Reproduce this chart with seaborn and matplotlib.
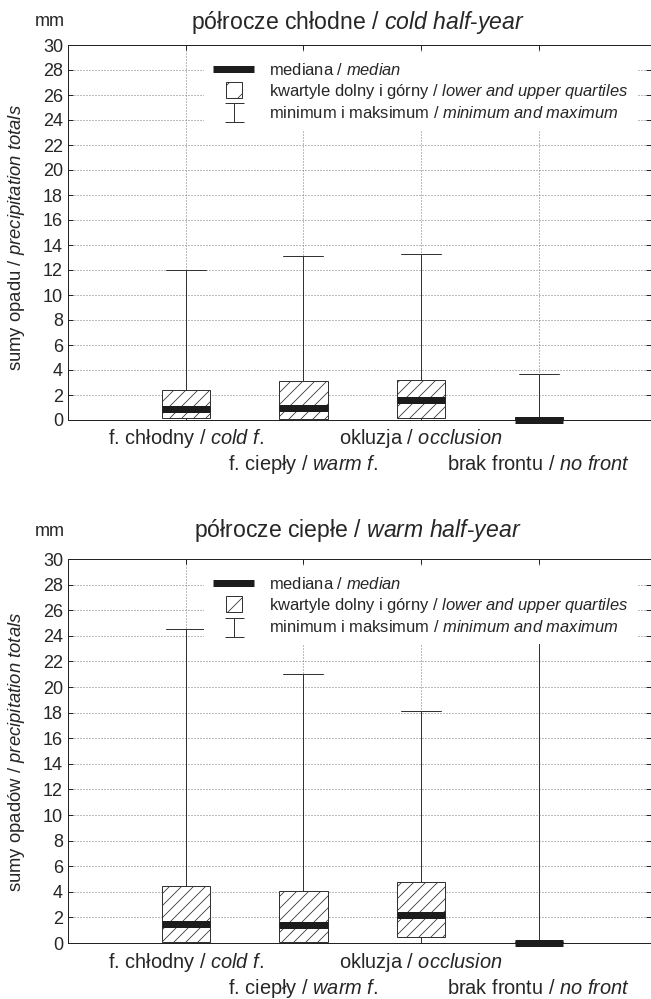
import numpy as np
import matplotlib.pyplot as plt
import matplotlib.patches as mpatches
from matplotlib.lines import Line2D
from matplotlib.path import Path
from matplotlib.legend_handler import HandlerPatch
import seaborn as sns

# kategorie frontów
categories = ["f. chłodny", "f. ciepły", "okluzja", "brak frontu"]
categories_en = ["cold f.", "warm f.", "occlusion", "no front"]

# półrocze chłodne
cold_min = [0.0, 0.0, 0.0, 0.0]
cold_q1 = [0.13, 0.10, 0.13, 0.0]
cold_med = [0.85, 1.0, 1.6, 0.0]
cold_q3 = [2.4, 3.1, 3.2, 0.27]
cold_max = [12.0, 13.1, 13.3, 3.7]

# półrocze ciepłe
warm_min = [0.0, 0.0, 0.0, 0.0]
warm_q1 = [0.05, 0.05, 0.5, 0.0]
warm_med = [1.5, 1.4, 2.2, 0.0]
warm_q3 = [4.45, 4.05, 4.8, 0.05]
warm_max = [24.5, 21.0, 18.1, 26.0]

yticks = list(range(0, 31, 2))

DARK = "#1c1c1c"
EDGE = "#333333"
GRID = "#7a7a7a"

sns.set_style("ticks")
plt.rcParams["font.family"] = ["Liberation Sans", "DejaVu Sans"]
plt.rcParams["mathtext.fontset"] = "custom"
plt.rcParams["mathtext.rm"] = "Liberation Sans"
plt.rcParams["mathtext.it"] = "Liberation Sans:italic"
plt.rcParams["mathtext.bf"] = "Liberation Sans:bold"
plt.rcParams["hatch.linewidth"] = 0.8


def square(legend, orig_handle, xdescent, ydescent, width, height, fontsize):
    s = 16
    return mpatches.Rectangle((-xdescent + width / 2 - s / 2, -ydescent + height / 2 - s / 2), s, s)


whisker_marker = Path(
    [(-0.5, 0.5), (0.5, 0.5), (0, 0.5), (0, -0.5), (-0.5, -0.5), (0.5, -0.5)],
    [Path.MOVETO, Path.LINETO, Path.MOVETO, Path.LINETO, Path.MOVETO, Path.LINETO],
)


def mixed(pl, en):
    return pl + r" / $\mathit{" + en.replace(" ", r"\ ") + "}$"


def draw_panel(ax, lo, q1, med, q3, hi):
    stats = [dict(med=m, q1=a, q3=b, whislo=l, whishi=h, fliers=[])
             for l, a, m, b, h in zip(lo, q1, med, q3, hi)]
    art = ax.bxp(stats, positions=[1, 2, 3, 4], widths=0.41, capwidths=0.34,
                 patch_artist=True, showfliers=False,
                 boxprops=dict(facecolor="white", edgecolor=EDGE, hatch="//", linewidth=1),
                 medianprops=dict(color=DARK, linewidth=7, solid_capstyle="butt"),
                 whiskerprops=dict(color=EDGE, linewidth=1),
                 capprops=dict(color=EDGE, linewidth=1))
    for m in art["medians"]:
        m.set_clip_on(False)
        m.set_zorder(4)

    ax.set_xlim(0, 583 / 117.7)
    ax.set_ylim(0, 30)
    ax.set_yticks(yticks)
    ax.set_xticks([1, 2, 3, 4], labels=[])
    # podpisy kategorii w dwóch rzędach
    for i, (pl, en) in enumerate(zip(categories, categories_en)):
        ax.annotate(mixed(pl, en), xy=(i + 1, 0), xycoords=("data", "axes fraction"),
                    xytext=(0, -19 if i % 2 == 0 else -45), textcoords="offset points",
                    ha="center", va="center", fontsize=20, annotation_clip=False)
    ax.set_axisbelow(True)
    ax.grid(True, color=GRID, linestyle=(0, (1, 2)), linewidth=1)
    ax.tick_params(direction="in", length=5, width=1, top=True, right=True,
                   color="#222222", labelsize=18, pad=5)
    for sp in ax.spines.values():
        sp.set_visible(True)
        sp.set_color("#222222")
        sp.set_linewidth(1)

    handles = [
        Line2D([], [], color=DARK, lw=7, solid_capstyle="butt"),
        mpatches.Patch(facecolor="white", edgecolor=EDGE, hatch="/", lw=1),
        Line2D([], [], ls="none", marker=whisker_marker, markersize=19,
               markerfacecolor="none", markeredgecolor=EDGE, markeredgewidth=1),
    ]
    texts = [
        r"mediana / $\mathit{median}$",
        r"kwartyle dolny i górny / $\mathit{lower\ and\ upper\ quartiles}$",
        r"minimum i maksimum / $\mathit{minimum\ and\ maximum}$",
    ]
    leg = ax.legend(handles, texts, handler_map={mpatches.Patch: HandlerPatch(patch_func=square)},
                    loc="upper left", bbox_to_anchor=((204 - 68) / 583, 0.979),
                    borderaxespad=0, borderpad=0.55, frameon=True, fancybox=False,
                    facecolor="white", edgecolor="none", framealpha=1, fontsize=16.5,
                    handlelength=2.48, handletextpad=0.9, labelspacing=0.25)
    leg.set_zorder(5)


fig = plt.figure(figsize=(651 / 72, 999 / 72), dpi=72)

ax1 = fig.add_axes([68 / 651, (999 - 420) / 999, 1 - 68 / 651, 375 / 999])
draw_panel(ax1, cold_min, cold_q1, cold_med, cold_q3, cold_max)
ax2 = fig.add_axes([68 / 651, (999 - 943) / 999, 1 - 68 / 651, 384 / 999])
draw_panel(ax2, warm_min, warm_q1, warm_med, warm_q3, warm_max)

fig.text(358 / 651, 1 - 22 / 999, r"półrocze chłodne / $\mathit{cold\ half}$-$\mathit{year}$",
         ha="center", va="center", fontsize=23)
fig.text(358 / 651, 1 - 531 / 999, r"półrocze ciepłe / $\mathit{warm\ half}$-$\mathit{year}$",
         ha="center", va="center", fontsize=23)
fig.text(50 / 651, 1 - 22 / 999, "mm", ha="center", va="center", fontsize=18)
fig.text(50 / 651, 1 - 531 / 999, "mm", ha="center", va="center", fontsize=18)
fig.text(17 / 651, 1 - 238 / 999, r"sumy opadu / $\mathit{precipitation\ totals}$",
         rotation=90, ha="center", va="center", fontsize=18.5)
fig.text(17 / 651, 1 - 752 / 999, r"sumy opadów / $\mathit{precipitation\ totals}$",
         rotation=90, ha="center", va="center", fontsize=18.5)

fig.savefig("out.png", dpi=72)
